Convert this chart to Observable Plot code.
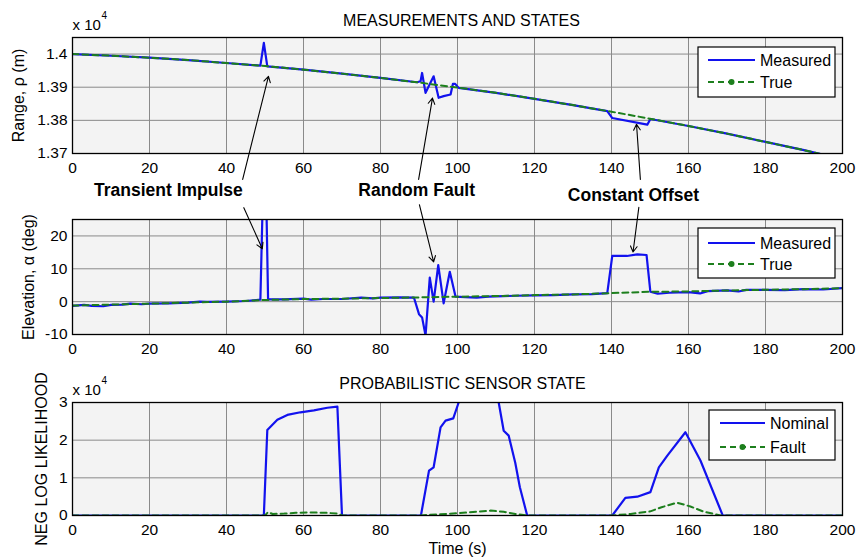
<!DOCTYPE html>
<html><head><meta charset="utf-8">
<script src="https://cdn.jsdelivr.net/npm/d3@7"></script>
<script src="https://cdn.jsdelivr.net/npm/@observablehq/plot@0.6"></script>
<style>
body{margin:0;background:#fff;}
#chart{width:859px;height:557px;position:relative;overflow:hidden;background:#fff;}
#chart svg{display:block;}
</style></head><body><div id="chart"></div>
<script>
// ---------- data ----------
const xTicks = [0,20,40,60,80,100,120,140,160,180,200];
const rangeTicks = [13700,13800,13900,14000];
const elevTicks = [-10,0,10,20];
const nllTicks = [0,10000,20000,30000];
const seriesNames1 = ["Measured","True"];
const seriesNames3 = ["Nominal","Fault"];
const titles = ["MEASUREMENTS AND STATES","PROBABILISTIC SENSOR STATE"];
const yLabels = ["Range, \u03c1 (m)","Elevation, \u03b1 (deg)","NEG LOG LIKELIHOOD"];
const xLabel = "Time (s)";

const rangeTrueT = [0,10,20,30,40,50,60,70,80,90,100,110,120,130,140,150,160,170,180,190,200];
const rangeTrueV = [14000,13995,13989,13982,13973,13964,13953,13941,13928,13914,13899,13883,13865,13846,13826,13805,13783,13760,13735,13710,13683];
const rangeMeasT = [0,10,20,30,40,48.8,49.7,50.6,60,70,80,89.5,90.4,90.8,91.7,93.8,95.1,96.4,98.2,98.8,99.4,100.3,110,120,130,138.9,140.2,149.3,150.1,160,170,180,190,200];
const rangeMeasV = [14000,13995,13989,13982,13973,13965,14034,13963,13953,13941,13928,13915,13918,13943,13883,13933,13868,13873,13878,13910,13910,13898,13883,13865,13846,13828,13807,13787,13804,13783,13760,13735,13710,13683];

const elevTrueT = [0,10,20,30,40,50,60,70,80,90,100,110,120,130,140,150,160,170,180,190,200];
const elevTrueV = [-1.2,-0.9,-0.6,-0.3,0.0,0.5,0.8,0.9,1.1,1.3,1.5,1.7,2.0,2.2,2.6,3.0,3.1,3.4,3.6,3.8,4.1];
const elevMeasT = [0,3,5,8,10,13,15,18,20,25,30,33,35,40,45,48.8,49.6,50.2,50.8,55,60,62,65,70,75,78,80,85,88.7,90,90.8,91.7,92.8,93.8,95,96.4,98,99.5,102,105,108,110,115,120,125,130,135,138.9,140.2,144,146.7,149.1,150.1,152,155,160,163,165,170,173,175,180,185,190,195,200];
const elevMeasV = [-1.3,-1.0,-1.3,-1.4,-1.0,-0.9,-0.6,-0.8,-0.6,-0.5,-0.3,0.0,-0.1,0.0,0.2,0.6,40,40,0.7,0.7,0.9,0.6,0.8,0.8,1.2,1.0,1.2,1.3,1.2,-3.8,-4.8,-10.3,7.3,0.0,11.1,-0.5,9.1,1.5,1.4,1.2,1.5,1.6,1.8,1.9,2.0,2.2,2.3,2.6,13.9,13.9,14.4,14.2,3.0,2.4,2.7,2.9,2.5,3.2,3.4,3.1,3.6,3.6,3.5,3.8,3.7,4.1];

const nllNomT = [0,49.7,50.6,53.2,55.8,59.2,62.7,66.2,68.8,70,90.5,92.6,93.8,95.6,96.9,98.9,100.3,103,108,110.7,112,113.3,115,116.2,118.1,140.2,143.6,146.7,150.1,152.3,154.5,159.2,163.1,168.9,200];
const nllNomV = [0,0,22700,25400,26700,27400,27900,28600,28900,0,0,11900,12800,23400,25200,25800,30000,34000,34000,30000,22500,21200,14000,7500,0,0,4700,5000,6200,12800,15900,22100,14600,0,0];
const nllFaultT = [0,50,50.8,52,55,58,62,66,69,70,90,95,100,105,108.6,112,115,118,140,145,150.1,153,157,160.5,164,168.4,200];
const nllFaultV = [0,0,900,400,500,700,800,700,500,0,0,300,600,1000,1300,1000,400,0,0,400,1100,2200,3400,2400,1000,0,0];

// annotations (data-space anchors)
const annLabels = ["Transient Impulse","Random Fault","Constant Offset"];
const annTextT = [24.9,89.4,145.7];
const annTextV = [33.8,33.8,32.3];
const annUpTailT = [44.2,89.9,147.5], annUpTailV = [13622,13622,13622];
const annUpTipT = [50.9,93.5,146.5],  annUpTipV = [13933,13867,13788];
const annDnTailT = [44.5,90.1,147.1], annDnTailV = [28.6,29.5,28.7];
const annDnTipT = [49.3,93.8,145.6],  annDnTipV = [16.1,12.1,15.1];

// ---------- helpers ----------
const FONT = "'Liberation Sans', Arial, Helvetica, sans-serif";
const BLUE = "#1212ee", GREEN = "#1d7f1d", GRID = "#8a8a8a", BG = "#f3f3f3";
const zipTV = (T, V) => T.map((t, i) => ({t, v: V[i]}));
const rangeTrue = zipTV(rangeTrueT, rangeTrueV), rangeMeas = zipTV(rangeMeasT, rangeMeasV);
const elevTrue = zipTV(elevTrueT, elevTrueV), elevMeas = zipTV(elevMeasT, elevMeasV);
const nllNom = zipTV(nllNomT, nllNomV), nllFault = zipTV(nllFaultT, nllFaultV);
const annUp = annLabels.map((l, i) => ({x1: annUpTailT[i], y1: annUpTailV[i], x2: annUpTipT[i], y2: annUpTipV[i]}));
const annDn = annLabels.map((l, i) => ({x1: annDnTailT[i], y1: annDnTailV[i], x2: annDnTipT[i], y2: annDnTipV[i]}));
const annText = annLabels.map((l, i) => ({label: l, t: annTextT[i], v: annTextV[i]}));

function panel(o) {
  return Plot.plot({
    width: 859, height: o.height,
    marginTop: o.mt, marginBottom: o.mb, marginLeft: 72, marginRight: 17,
    style: {fontFamily: FONT, fontSize: "15.5px", background: "white", color: "black"},
    x: {domain: [0, 200], ticks: xTicks, tickSize: 0, tickPadding: 8, label: null},
    y: {domain: o.yDomain, ticks: o.yTicks, tickFormat: o.yFormat, tickSize: 0, tickPadding: 5, label: null},
    marks: [
      Plot.frame({fill: BG, stroke: null}),
      Plot.ruleX(xTicks, {stroke: GRID, strokeWidth: 1}),
      Plot.ruleY(o.yTicks, {stroke: GRID, strokeWidth: 1}),
      ...o.marks,
      Plot.text([o.ylabel], {frameAnchor: "left", dx: o.ylabelDx, rotate: -90, textAnchor: "middle", lineAnchor: "middle", fontSize: 16}),
      Plot.frame({stroke: "black", strokeWidth: 1.3})
    ]
  });
}
function exponent(dy) {
  return [
    Plot.text(["x 10"], {frameAnchor: "top-left", textAnchor: "start", lineAnchor: "middle", dx: 0, dy: dy, fontSize: 15}),
    Plot.text(["4"], {frameAnchor: "top-left", textAnchor: "start", lineAnchor: "middle", dx: 29, dy: dy - 10, fontSize: 10})
  ];
}
function legend(svg, L, names, styles) {
  const g = d3.select(svg).append("g").attr("font-family", FONT).attr("font-size", 16).attr("text-anchor", "start");
  g.append("rect").attr("x", L.x).attr("y", L.y).attr("width", L.w).attr("height", L.h)
    .attr("fill", "white").attr("stroke", "black").attr("stroke-width", 1.2);
  names.forEach((name, i) => {
    const s = styles[i], cy = L.y + L.r0 + i * L.dr;
    g.append("line").attr("x1", L.x + L.l0).attr("x2", L.x + L.l1).attr("y1", cy).attr("y2", cy)
      .attr("stroke", s.color).attr("stroke-width", 2.2).attr("stroke-dasharray", s.dash || null);
    if (s.dot) g.append("circle").attr("cx", L.x + (L.l0 + L.l1) / 2).attr("cy", cy).attr("r", 3).attr("fill", s.color);
    g.append("text").attr("x", L.x + L.l1 + 5).attr("y", cy).attr("dy", "0.35em").attr("text-anchor", "start").text(name);
  });
}
const styles = [{color: BLUE}, {color: GREEN, dash: "6,4", dot: true}];

// ---------- panel 1 ----------
const p1 = panel({
  height: 180, mt: 37, mb: 27,
  yDomain: [13700, 14050], yTicks: rangeTicks, yFormat: d => String(d / 1e4),
  ylabel: yLabels[0], ylabelDx: -54,
  marks: [
    Plot.line(rangeMeas, {x: "t", y: "v", stroke: BLUE, strokeWidth: 2.2, clip: true}),
    Plot.line(rangeTrue, {x: "t", y: "v", stroke: GREEN, strokeWidth: 2, strokeDasharray: "6,4", clip: true}),
    Plot.arrow(annUp, {x1: "x1", y1: "y1", x2: "x2", y2: "y2", stroke: "black", strokeWidth: 1.1, headLength: 9}),
    Plot.text([titles[0]], {frameAnchor: "top", lineAnchor: "middle", dx: 4, dy: -17, fontSize: 16}),
    ...exponent(-12)
  ]
});
legend(p1, {x: 698, y: 47, w: 137, h: 50, r0: 13, dr: 22, l0: 10, l1: 57}, seriesNames1, styles);

// ---------- panel 2 ----------
const p2 = panel({
  height: 190, mt: 39, mb: 36,
  yDomain: [-10, 25], yTicks: elevTicks, yFormat: d => String(d),
  ylabel: yLabels[1], ylabelDx: -44,
  marks: [
    Plot.line(elevMeas, {x: "t", y: "v", stroke: BLUE, strokeWidth: 2.2, clip: true}),
    Plot.line(elevTrue, {x: "t", y: "v", stroke: GREEN, strokeWidth: 2, strokeDasharray: "6,4", clip: true}),
    Plot.arrow(annDn, {x1: "x1", y1: "y1", x2: "x2", y2: "y2", stroke: "black", strokeWidth: 1.1, headLength: 9}),
    Plot.text(annText, {x: "t", y: "v", text: "label", fontWeight: "bold", fontSize: 17.5, lineAnchor: "middle"})
  ]
});
legend(p2, {x: 698, y: 48, w: 137, h: 50, r0: 15, dr: 21, l0: 10, l1: 57}, seriesNames1, styles);

// ---------- panel 3 ----------
const p3 = panel({
  height: 187, mt: 32, mb: 42,
  yDomain: [0, 30000], yTicks: nllTicks, yFormat: d => String(d / 1e4),
  ylabel: yLabels[2], ylabelDx: -31,
  marks: [
    Plot.line(nllNom, {x: "t", y: "v", stroke: BLUE, strokeWidth: 2.2, clip: true}),
    Plot.line(nllFault, {x: "t", y: "v", stroke: GREEN, strokeWidth: 2, strokeDasharray: "6,4", clip: true}),
    Plot.text([titles[1]], {frameAnchor: "top", lineAnchor: "middle", dx: 5, dy: -19, fontSize: 16}),
    Plot.text([xLabel], {frameAnchor: "bottom", lineAnchor: "middle", dy: 33, fontSize: 16}),
    ...exponent(-12)
  ]
});
legend(p3, {x: 709, y: 40, w: 126, h: 50, r0: 13, dr: 24, l0: 11, l1: 56}, seriesNames3, styles);

const root = document.getElementById("chart");
root.append(p1, p2, p3);
</script></body></html>
